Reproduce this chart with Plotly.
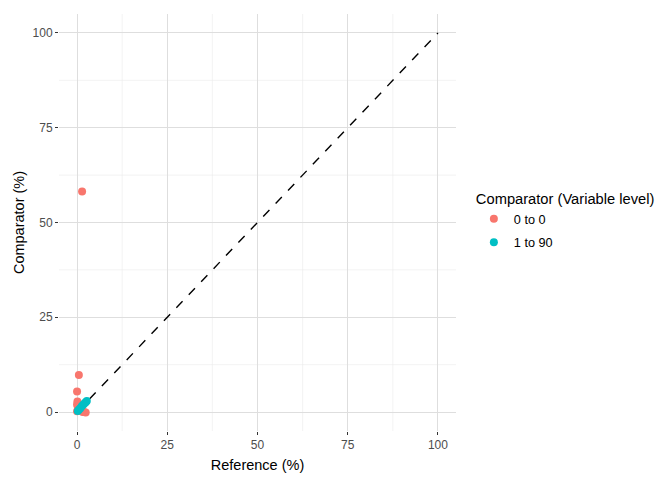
import plotly.graph_objects as go

# values (percent)
red_x = [1.4, 0.5, 0.0, 0.1, 0.0, 0.2, 0.3, 0.0, 1.2, 1.6, 2.0, 2.4]
red_y = [58.2, 9.8, 5.4, 2.8, 2.0, 1.4, 0.6, 0.2, 0.2, 0.0, 0.0, -0.1]
teal_x = [0.2, 0.5, 0.9, 1.3, 1.7, 2.1, 2.4, 2.7]
teal_y = [0.3, 0.6, 1.0, 1.5, 1.9, 2.3, 2.6, 2.9]
ticks = [0, 25, 50, 75, 100]
minor = [12.5, 37.5, 62.5, 87.5]

fig = go.Figure()

fig.add_trace(go.Scatter(
    x=[0, 100], y=[0, 100], mode="lines",
    line=dict(color="black", dash="dash", width=1.4),
    showlegend=False, hoverinfo="skip",
))
fig.add_trace(go.Scatter(
    x=red_x, y=red_y, mode="markers", name="0 to 0", legendgroup="a",
    marker=dict(color="#F8766D", size=8),
))
fig.add_trace(go.Scatter(
    x=teal_x, y=teal_y, mode="markers", name="1 to 90", legendgroup="b",
    marker=dict(color="#00BFC4", size=8),
))

# minor grid like ggplot
for m in minor:
    fig.add_shape(type="line", x0=m, x1=m, y0=0, y1=1, yref="paper",
                  line=dict(color="#EBEBEB", width=0.6), layer="below")
    fig.add_shape(type="line", y0=m, y1=m, x0=0, x1=1, xref="paper",
                  line=dict(color="#EBEBEB", width=0.6), layer="below")

axis_style = dict(
    range=[-5, 105], tickvals=ticks, showgrid=True, gridcolor="#DEDEDE",
    gridwidth=1, zeroline=False, showline=False, automargin=False,
    ticks="outside", ticklen=3, tickcolor="#333333",
    tickfont=dict(size=12, color="#4D4D4D"),
)

fig.update_xaxes(title=dict(text="Reference (%)", font=dict(size=14.5, color="black"), standoff=8),
                 **axis_style)
fig.update_yaxes(title=dict(text="Comparator (%)", font=dict(size=14.5, color="black"), standoff=4),
                 **axis_style)

fig.update_layout(
    width=672, height=480,
    paper_bgcolor="white", plot_bgcolor="white",
    font=dict(family="Liberation Sans, Arial, sans-serif", color="black"),
    margin=dict(l=51, r=224, t=6, b=57),
    legend=dict(
        title=dict(text="Comparator (Variable level)", font=dict(size=14.7)),
        font=dict(size=12.7), x=1.045, y=0.59, yanchor="top",
        tracegroupgap=4, itemsizing="trace",
    ),
)

fig.write_html("out.html")
